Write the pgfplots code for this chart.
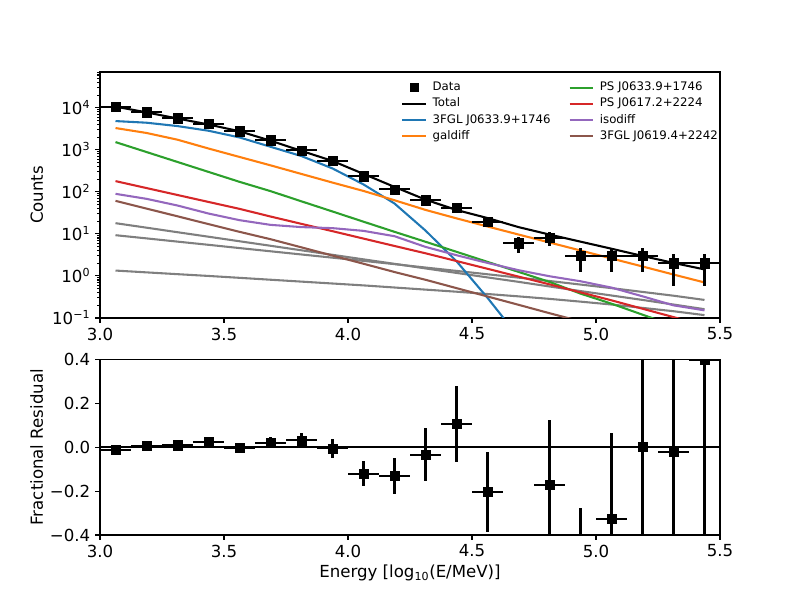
\documentclass[border=0pt]{standalone}
\usepackage{fontspec}
\setmainfont{DejaVu Sans}
\usepackage{pgfplots}
\pgfplotsset{compat=1.18}
\usepackage{pgfplotstable}

\definecolor{tabblue}{HTML}{1F77B4}
\definecolor{taborange}{HTML}{FF7F0E}
\definecolor{tabgreen}{HTML}{2CA02C}
\definecolor{tabred}{HTML}{D62728}
\definecolor{tabpurple}{HTML}{9467BD}
\definecolor{tabbrown}{HTML}{8C564B}
\definecolor{tabgrey}{HTML}{7F7F7F}

\pgfplotstableread{
x N ex ey
3.0625 10500 0.0625 102.5
3.1875 7800 0.0625 88.3
3.3125 5600 0.0625 74.8
3.4375 4100 0.0625 64.0
3.5625 2750 0.0625 52.4
3.6875 1680 0.0625 41.0
3.8125 970 0.0625 31.1
3.9375 540 0.0625 23.2
4.0625 235 0.0625 15.3
4.1875 114 0.0625 10.7
4.3125 63 0.0625 7.94
4.4375 41 0.0625 6.40
4.5625 19 0.0625 4.36
4.6875 6 0.0625 2.45
4.8125 8 0.0625 2.83
4.9375 3 0.0625 1.73
5.0625 3 0.0625 1.73
5.1875 3 0.0625 1.73
5.3125 2 0.0625 1.41
5.4375 2 0.0625 1.41
}\datatab

\pgfplotstableread{
x r ex er
3.0625 -0.012 0.0625 0.0096
3.1875 0.005 0.0625 0.0114
3.3125 0.009 0.0625 0.0135
3.4375 0.026 0.0625 0.016
3.5625 -0.003 0.0625 0.019
3.6875 0.020 0.0625 0.025
3.8125 0.031 0.0625 0.033
3.9375 -0.005 0.0625 0.043
4.0625 -0.120 0.0625 0.057
4.1875 -0.130 0.0625 0.081
4.3125 -0.034 0.0625 0.122
4.4375 0.108 0.0625 0.173
4.5625 -0.203 0.0625 0.183
4.6875 -0.586 0.0625 0.169
4.8125 -0.170 0.0625 0.293
4.9375 -0.541 0.0625 0.265
5.0625 -0.325 0.0625 0.390
5.1875 0.003 0.0625 0.580
5.3125 -0.020 0.0625 0.690
5.4375 0.400 0.0625 0.990
}\residtab

\pgfplotstableread{
x total blue orange green red purple brown ga gb gc
3.0625 10627 4820 3289 1524 180 89.7 61.1 17.99 9.31 1.343
3.1875 7761 4406 2512 885 123 68.2 40.0 14.06 7.82 1.216
3.3125 5550 3664 1738 513 84.1 47.3 26.2 10.96 6.55 1.102
3.4375 3996 2838 1072 298 57.5 30.5 17.1 8.57 5.50 1.000
3.5625 2758 1968 676 173 39.4 21.2 11.2 6.68 4.60 0.902
3.6875 1647 1180 427 104 25.9 16.4 7.48 5.22 3.86 0.813
3.8125 941 708 266 59.4 17.3 14.5 4.78 4.07 3.24 0.733
3.9375 543 360 166 34.1 11.6 13.7 3.05 3.18 2.72 0.661
4.0625 267 150 105 19.5 7.73 11.8 1.95 2.48 2.28 0.596
4.1875 131 52.8 63.1 11.2 5.16 8.81 1.24 1.94 1.91 0.531
4.3125 65.2 12.0 37.2 6.50 3.46 4.91 0.811 1.51 1.585 0.473
4.4375 37.0 2.24 23.4 3.75 2.26 3.11 0.513 1.18 1.318 0.422
4.5625 23.8 0.302 15.0 2.16 1.48 2.04 0.325 0.923 1.096 0.372
4.6875 14.5 0.0355 9.66 1.25 0.964 1.37 0.206 0.724 0.912 0.327
4.8125 9.64 0.00316 6.24 0.721 0.631 0.984 0.130 0.562 0.759 0.285
4.9375 6.54 0.00025 4.03 0.38 0.407 0.748 0.0832 0.437 0.624 0.245
5.0625 4.44 0.00002 2.60 0.219 0.263 0.528 0.0525 0.343 0.513 0.209
5.1875 2.99 0.000002 1.68 0.120 0.166 0.328 0.033 0.269 0.417 0.174
5.3125 2.04 0.0000002 1.08 0.066 0.105 0.200 0.021 0.209 0.339 0.145
5.4375 1.43 0.00000002 0.70 0.035 0.066 0.152 0.0132 0.162 0.269 0.117
}\modeltab

\pgfplotsset{
  base/.style={
    scale only axis,
    width=6.2in,
    xmin=3, xmax=5.5,
    xtick={3,3.5,4,4.5,5,5.5},
    xticklabels={3.0,3.5,4.0,4.5,5.0,5.5},
    tick align=outside,
    tick pos=left,
    major tick length=3.5pt,
    minor tick length=2pt,
    every tick/.style={black, line width=0.8pt},
    axis line style={line width=0.8pt},
    ticklabel style={font=\fontsize{12}{14.4}\selectfont},
    label style={font=\fontsize{12}{14.4}\selectfont},
    ylabel style={at={(axis description cs:-0.102,0.5)}, anchor=center},
    clip marker paths=true,
  },
  comp/.style={line width=1.5pt, forget plot},
}

\begin{document}
\begin{tikzpicture}
\useasboundingbox (0,0) rectangle (8in,6in);

\begin{axis}[base,
  at={(1in,2.82in)}, anchor=south west,
  height=2.46in,
  ymode=log, ymin=0.1, ymax=70800,
  ytick={0.1,1,10,100,1000,10000},
  yticklabels={10\textsuperscript{−1},10\textsuperscript{0},10\textsuperscript{1},10\textsuperscript{2},10\textsuperscript{3},10\textsuperscript{4}},
  minor ytick={0.2,0.3,0.4,0.5,0.6,0.7,0.8,0.9,2,3,4,5,6,7,8,9,20,30,40,50,60,70,80,90,200,300,400,500,600,700,800,900,2000,3000,4000,5000,6000,7000,8000,9000,20000,30000,40000,50000,60000,70000},
  ylabel={Counts},
  legend columns=2,
  legend cell align=left,
  legend style={draw=none, fill=none,
    font=\fontsize{8.5}{10}\selectfont,
    at={(axis description cs:0.479,0.977)}, anchor=north west,
    nodes={inner sep=1pt, text height=6.3pt, text depth=1.6pt},
    row sep=1.8pt,
    /tikz/every odd column/.append style={column sep=3pt},
    /tikz/every even column/.append style={column sep=0.42cm}},
]
\addlegendimage{black, legend image code/.code={
  \draw[black, line width=1.5pt] (0.3cm,-2.2pt) -- (0.3cm,2.2pt);
  \fill[black] (0.3cm-3pt,-3pt) rectangle (0.3cm+3pt,3pt);}}
\addlegendentry{Data}
\addlegendimage{tabgreen, line width=1.5pt}
\addlegendentry{PS J0633.9+1746}
\addlegendimage{black, line width=1.5pt}
\addlegendentry{Total}
\addlegendimage{tabred, line width=1.5pt}
\addlegendentry{PS J0617.2+2224}
\addlegendimage{tabblue, line width=1.5pt}
\addlegendentry{3FGL J0633.9+1746}
\addlegendimage{tabpurple, line width=1.5pt}
\addlegendentry{isodiff}
\addlegendimage{taborange, line width=1.5pt}
\addlegendentry{galdiff}
\addlegendimage{tabbrown, line width=1.5pt}
\addlegendentry{3FGL J0619.4+2242}

\addplot[comp, tabgrey] table[x=x, y=ga] {\modeltab};
\addplot[comp, tabgrey] table[x=x, y=gb] {\modeltab};
\addplot[comp, tabgrey] table[x=x, y=gc] {\modeltab};
\addplot[comp, black] table[x=x, y=total] {\modeltab};
\addplot[comp, tabblue] table[x=x, y=blue] {\modeltab};
\addplot[comp, taborange] table[x=x, y=orange] {\modeltab};
\addplot[comp, tabgreen] table[x=x, y=green] {\modeltab};
\addplot[comp, tabred] table[x=x, y=red] {\modeltab};
\addplot[comp, tabpurple] table[x=x, y=purple] {\modeltab};
\addplot[comp, tabbrown] table[x=x, y=brown] {\modeltab};

\addplot[black, only marks, mark=square*, mark size=3.3pt, forget plot,
  error bars/.cd, x dir=both, x explicit, y dir=both, y explicit,
  error bar style={line width=1.5pt, black}, error mark=none]
  table[x=x, y=N, x error=ex, y error=ey] {\datatab};
\end{axis}

\begin{axis}[base,
  at={(1in,0.65in)}, anchor=south west,
  height=1.755in,
  ymin=-0.4, ymax=0.4,
  ytick={-0.4,-0.2,0,0.2,0.4},
  yticklabels={−0.4,−0.2,0.0,0.2,0.4},
  ylabel={Fractional Residual},
  xlabel={Energy [log\textsubscript{10}(E/MeV)]},
  xlabel style={at={(axis description cs:0.5,-0.2165)}, anchor=center},
]
\addplot[black, line width=1.5pt, forget plot] coordinates {(3,0) (5.5,0)};
\addplot[black, only marks, mark=square*, mark size=3.3pt, forget plot,
  error bars/.cd, x dir=both, x explicit, y dir=both, y explicit,
  error bar style={line width=1.5pt, black}, error mark=none]
  table[x=x, y=r, x error=ex, y error=er] {\residtab};
\end{axis}
\end{tikzpicture}
\end{document}
